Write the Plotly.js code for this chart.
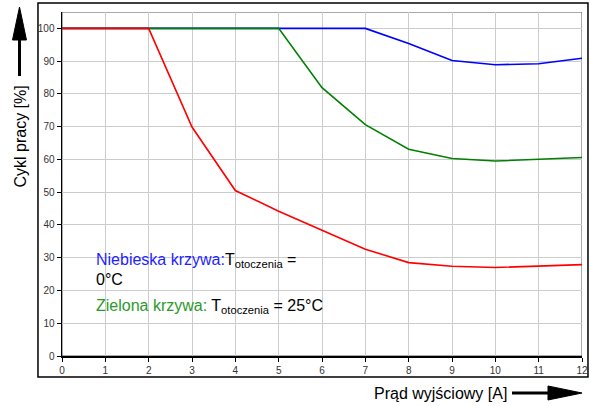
<!DOCTYPE html>
<html>
<head>
<meta charset="utf-8">
<script src="https://cdn.plot.ly/plotly-3.0.1.min.js"></script>
<style>html,body{margin:0;padding:0;background:#fff}#chart{width:590px;height:406px}</style>
</head>
<body>
<div id="chart"></div>
<script>
const current = [0, 1, 2, 3, 4, 5, 6, 7, 8, 9, 10, 11, 12];
const blueDuty  = [100, 100, 100, 100, 100, 100, 100, 100, 95.4, 90.2, 88.9, 89.2, 90.9];
const greenDuty = [100, 100, 100, 100, 100, 100, 81.9, 70.6, 63.1, 60.3, 59.5, 60.0, 60.6];
const redDuty   = [100, 100, 100, 69.9, 50.5, 44.2, 38.5, 32.6, 28.5, 27.4, 27.0, 27.4, 27.9];
const xTicks = [0, 1, 2, 3, 4, 5, 6, 7, 8, 9, 10, 11, 12];
const yTicks = [0, 10, 20, 30, 40, 50, 60, 70, 80, 90, 100];
const yTitle = 'Cykl pracy [%]';
const xTitle = 'Prąd wyjściowy [A]';

const FONT = '"Liberation Sans", Arial, sans-serif';
const traces = [
  {x: current, y: blueDuty, mode: 'lines', line: {color: '#0000ff', width: 1.6}, hoverinfo: 'skip'},
  {x: current, y: greenDuty, mode: 'lines', line: {color: '#008000', width: 1.6}, hoverinfo: 'skip'},
  {x: current, y: redDuty, mode: 'lines', line: {color: '#ff0000', width: 1.6}, hoverinfo: 'skip'}
];

const layout = {
  width: 590, height: 406,
  margin: {l: 62, r: 8, t: 12, b: 50},
  paper_bgcolor: '#fff', plot_bgcolor: '#fff',
  showlegend: false,
  font: {family: FONT, color: '#000'},
  xaxis: {
    range: [0, 12], tickvals: xTicks, ticktext: xTicks.map(String),
    showgrid: true, gridcolor: '#cccccc', gridwidth: 1, zeroline: false,
    showline: true, linecolor: '#000', linewidth: 1.5,
    ticks: 'outside', ticklen: 4, tickcolor: '#000', tickwidth: 1,
    tickfont: {size: 10, color: '#333', family: FONT}, fixedrange: true
  },
  yaxis: {
    range: [0, 105], tickvals: yTicks, ticktext: yTicks.map(String),
    showgrid: true, gridcolor: '#cccccc', gridwidth: 1, zeroline: false,
    showline: true, linecolor: '#000', linewidth: 1.5,
    ticks: 'outside', ticklen: 4, tickcolor: '#000', tickwidth: 1,
    tickfont: {size: 10, color: '#333', family: FONT}, fixedrange: true
  },
  shapes: [
    {type: 'rect', xref: 'x', yref: 'y', x0: 0, x1: 12, y0: 0, y1: 105, line: {color: '#555', width: 1}, layer: 'below'},
    {type: 'rect', xref: 'x', yref: 'y', x0: 0.76, x1: 6.25, y0: 5.8, y1: 33.4, fillcolor: '#fff', line: {width: 0}, layer: 'below'},
    {type: 'rect', xref: 'paper', yref: 'paper', x0: -0.0462, x1: 1.0115, y0: -0.061, y1: 1.026, line: {color: '#000', width: 1.5}},
    {type: 'line', xref: 'paper', yref: 'paper', x0: -0.0817, x1: -0.0817, y0: 0.8140, y1: 0.925, line: {color: '#000', width: 3}},
    {type: 'path', xref: 'paper', yref: 'paper', path: 'M -0.0817 1.0145 L -0.0952 0.9186 L -0.0683 0.9186 Z', fillcolor: '#000', line: {color: '#000', width: 1}},
    {type: 'line', xref: 'paper', yref: 'paper', x0: 0.8654, x1: 0.94, y0: -0.1076, y1: -0.1076, line: {color: '#000', width: 3}},
    {type: 'path', xref: 'paper', yref: 'paper', path: 'M 1.0 -0.1076 L 0.9346 -0.0872 L 0.9346 -0.1279 Z', fillcolor: '#000', line: {color: '#000', width: 1}}
  ],
  annotations: [
    {xref: 'paper', yref: 'paper', x: -0.0817, y: 0.6366, text: yTitle, textangle: -90, showarrow: false,
     xanchor: 'center', yanchor: 'middle', font: {size: 16, color: '#000', family: FONT}},
    {xref: 'paper', yref: 'paper', x: 0.727, y: -0.1076, text: xTitle, showarrow: false,
     xanchor: 'center', yanchor: 'middle', font: {size: 16, color: '#000', family: FONT}},
    {xref: 'paper', yref: 'paper', x: 0.0615, y: 0.279, showarrow: false, xanchor: 'left', yanchor: 'middle', align: 'left',
     text: '<span style="color:#1f1fff">Niebieska krzywa:</span>T<sub>otoczenia</sub> =',
     font: {size: 16, color: '#000', family: FONT}},
    {xref: 'paper', yref: 'paper', x: 0.0615, y: 0.221, showarrow: false, xanchor: 'left', yanchor: 'middle', align: 'left',
     text: '0°C', font: {size: 16, color: '#000', family: FONT}},
    {xref: 'paper', yref: 'paper', x: 0.0615, y: 0.1453, showarrow: false, xanchor: 'left', yanchor: 'middle', align: 'left',
     text: '<span style="color:#2a9a2a">Zielona krzywa:</span> T<sub>otoczenia</sub> = 25°C',
     font: {size: 16, color: '#000', family: FONT}}
  ]
};

Plotly.newPlot('chart', traces, layout, {displayModeBar: false, staticPlot: true});
</script>
</body>
</html>
